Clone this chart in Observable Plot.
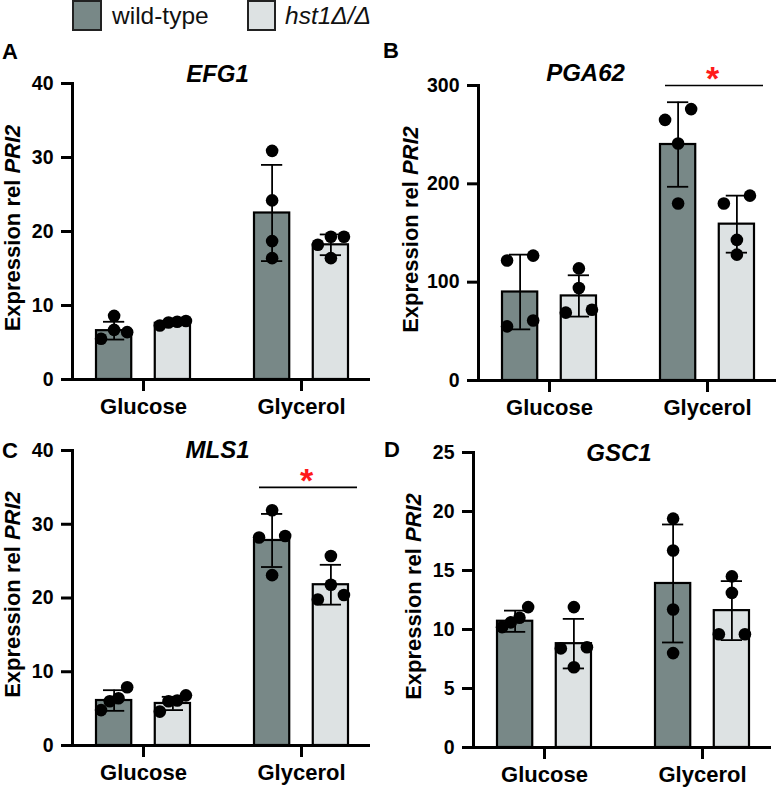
<!DOCTYPE html>
<html>
<head>
<meta charset="utf-8">
<script src="https://cdn.jsdelivr.net/npm/d3@7"></script>
<script src="https://cdn.jsdelivr.net/npm/@observablehq/plot@0.6"></script>
<style>
  html, body { margin: 0; padding: 0; background: #ffffff; }
  #root { position: relative; width: 782px; height: 789px; overflow: hidden;
          font-family: "Liberation Sans", Arial, Helvetica, sans-serif; }
  #root > svg { position: absolute; }
</style>
</head>
<body>
<div id="root"></div>
<script>
// ---------------- data ----------------
const conditions = ["Glucose", "Glycerol"];
const genotypes = ["wild-type", "hst1Δ/Δ"];
const genes = ["EFG1", "PGA62", "MLS1", "GSC1"];
const panelLetters = ["A", "B", "C", "D"];
const yMaxes = [40, 300, 40, 25];
const yTickValues = [[0, 10, 20, 30, 40], [0, 100, 200, 300], [0, 10, 20, 30, 40], [0, 5, 10, 15, 20, 25]];

// group order: Glucose wild-type, Glucose hst1, Glycerol wild-type, Glycerol hst1
const meanEFG1 = [6.6, 7.6, 22.5, 18.2];
const sdEFG1 = [1.2, 0.25, 6.5, 1.4];
const pointsEFG1 = [[8.6, 6.7, 6.4, 5.5], [7.3, 7.9, 7.7, 7.8], [30.9, 24.2, 18.7, 16.4], [19.3, 18.2, 16.4, 19.3]];

const meanPGA62 = [90, 86, 240, 159];
const sdPGA62 = [38, 21, 43, 29];
const pointsPGA62 = [[122, 127, 55, 61], [114, 94, 69, 72], [265, 276, 241, 180], [180, 188, 143, 128]];

const meanMLS1 = [6.1, 5.7, 27.8, 21.8];
const sdMLS1 = [1.4, 0.9, 3.6, 2.7];
const pointsMLS1 = [[6.4, 7.9, 6.0, 4.8], [6.8, 6.1, 6.0, 4.6], [31.9, 28.4, 28.2, 23.1], [25.7, 21.8, 20.4, 19.8]];

const meanGSC1 = [10.7, 8.8, 13.9, 11.6];
const sdGSC1 = [0.9, 2.1, 5.0, 2.5];
const pointsGSC1 = [[11.9, 11.0, 10.6, 10.2], [11.9, 8.5, 8.4, 6.8], [19.4, 16.7, 11.7, 8.0], [14.5, 13.1, 9.6, 9.6]];

const sigGenes = ["PGA62", "MLS1"];
const sigConditions = ["Glycerol", "Glycerol"];
const sigLevels = [300, 35];
const sigLabels = ["*", "*"];

const legendLabels = genotypes;
const yLabelMain = "Expression rel ";
const yLabelGene = "PRI2";

// ---------------- styles / layout ----------------
const FONT = '"Liberation Sans", Arial, Helvetica, sans-serif';
const colors = ["#788887", "#dde2e3"];
const layout = [
  {left: 0,   top: 36,  width: 391, height: 384, mt: 47, mr: 23, mb: 41, ml: 72, labelX: 20, titleX: 217, titleY: 73.5, letterX: 2,   letterY: 59},
  {left: 391, top: 36,  width: 391, height: 384, mt: 49, mr: 8,  mb: 40, ml: 87, labelX: 27, titleX: 585, titleY: 72.5, letterX: 383, letterY: 58},
  {left: 0,   top: 420, width: 391, height: 369, mt: 30, mr: 23, mb: 44, ml: 72, labelX: 20, titleX: 217, titleY: 450,  letterX: 2,   letterY: 458},
  {left: 391, top: 420, width: 391, height: 369, mt: 32, mr: 13, mb: 42, ml: 82, labelX: 30, titleX: 618.5, titleY: 452.5, letterX: 384, letterY: 457}
];
const xPad = {paddingInner: 0.405, paddingOuter: 0.139, align: 0.55};
const dotR = 6.3;
const axisWidth = 3;

const series = {
  EFG1: {mean: meanEFG1, sd: sdEFG1, points: pointsEFG1},
  PGA62: {mean: meanPGA62, sd: sdPGA62, points: pointsPGA62},
  MLS1: {mean: meanMLS1, sd: sdMLS1, points: pointsMLS1},
  GSC1: {mean: meanGSC1, sd: sdGSC1, points: pointsGSC1}
};
const groups = conditions.flatMap(c => genotypes.map(g => ({condition: c, genotype: g})));

// horizontal spreading of overlapping dots (column-scatter style)
function spreadOffsets(values, ppu, spread) {
  const idx = values.map((v, i) => i).sort((a, b) => values[a] - values[b]);
  const clusters = [];
  let cur = [idx[0]];
  for (let k = 1; k < idx.length; k++) {
    if ((values[idx[k]] - values[idx[k - 1]]) * ppu < 2 * dotR) cur.push(idx[k]);
    else { clusters.push(cur); cur = [idx[k]]; }
  }
  clusters.push(cur);
  const off = new Array(values.length).fill(0);
  for (const c of clusters) {
    const n = c.length;
    if (n === 2) { off[c[0]] = -spread; off[c[1]] = spread; }
    else if (n === 3) { off[c[0]] = -spread; off[c[1]] = spread; off[c[2]] = 0; }
    else if (n >= 4) c.forEach((j, k) => { off[j] = -spread + 2 * spread * k / (n - 1); });
  }
  return off;
}

const root = document.getElementById("root");

genes.forEach((gene, pi) => {
  const L = layout[pi];
  const s = series[gene];
  const plotW = L.width - L.ml - L.mr;
  const plotH = L.height - L.mt - L.mb;
  const step = plotW / (conditions.length - xPad.paddingInner + 2 * xPad.paddingOuter);
  const bandW = step * (1 - xPad.paddingInner);
  const barStep = bandW / (genotypes.length - 0.4);
  const barW = barStep * 0.6;
  const inset = bandW - barW;
  const shift = (bandW - barW) / 2;
  const ppu = plotH / yMaxes[pi];

  const summary = groups.map((g, i) => ({...g, mean: s.mean[i], sd: s.sd[i]}));
  const points = groups.flatMap((g, i) => {
    const off = spreadOffsets(s.points[i], ppu, barW * 0.37);
    return s.points[i].map((v, j) => ({...g, value: v, offset: off[j]}));
  });
  const sig = sigGenes.map((g, i) => ({gene: g, condition: sigConditions[i], level: sigLevels[i], label: sigLabels[i]}))
                      .filter(d => d.gene === gene);

  const marks = [];
  genotypes.forEach((gt, gi) => {
    const rows = summary.filter(d => d.genotype === gt);
    marks.push(Plot.barY(rows, {
      x: "condition", y: "mean", fill: colors[gi], stroke: "#000", strokeWidth: 2.2,
      insetLeft: gi === 0 ? 0 : inset, insetRight: gi === 0 ? inset : 0
    }));
  });
  genotypes.forEach((gt, gi) => {
    const side = gi === 0 ? -1 : 1;
    const rows = summary.filter(d => d.genotype === gt);
    marks.push(Plot.ruleX(rows, {x: "condition", y1: d => d.mean - d.sd, y2: d => d.mean + d.sd, dx: side * shift, stroke: "#000", strokeWidth: 1.8}));
    marks.push(Plot.tickY(rows, {x: "condition", y: d => d.mean + d.sd, dx: side * shift, insetLeft: inset / 2 + 7, insetRight: inset / 2 + 7, stroke: "#000", strokeWidth: 1.8}));
    marks.push(Plot.tickY(rows, {x: "condition", y: d => d.mean - d.sd, dx: side * shift, insetLeft: inset / 2 + 7, insetRight: inset / 2 + 7, stroke: "#000", strokeWidth: 1.8}));
  });
  genotypes.forEach((gt, gi) => {
    const side = gi === 0 ? -1 : 1;
    const rows = points.filter(d => d.genotype === gt);
    const offs = Array.from(new Set(rows.map(d => d.offset)));
    offs.forEach(o => {
      marks.push(Plot.dot(rows.filter(d => d.offset === o), {x: "condition", y: "value", dx: side * shift + o, r: dotR, fill: "#000", stroke: "none"}));
    });
  });
  if (sig.length) {
    marks.push(Plot.ruleY(sig, {x1: "condition", x2: "condition", y: "level", insetLeft: 5, insetRight: -9, stroke: "#000", strokeWidth: 1.6}));
    marks.push(Plot.text(sig, {x: "condition", y: "level", text: "label", fill: "#ff1a1a", fontSize: 34, fontWeight: "bold", lineAnchor: "top", dy: -20, dx: 5}));
  }
  marks.push(Plot.frame({anchor: "left", stroke: "#000", strokeWidth: axisWidth, strokeLinecap: "square"}));
  marks.push(Plot.frame({anchor: "bottom", stroke: "#000", strokeWidth: axisWidth}));
  marks.push(Plot.axisY({ticks: yTickValues[pi], tickFormat: d => String(d), tickSize: 11, tickPadding: 8, strokeWidth: axisWidth, label: null, fontSize: 19.5}));
  marks.push(Plot.axisX({tickSize: 12, tickPadding: 7, strokeWidth: axisWidth, label: null, fontSize: 22}));
  const frameCenterX = L.left + L.ml + plotW / 2;
  marks.push(Plot.text([gene], {
    text: d => d, frameAnchor: "top", lineAnchor: "middle",
    dx: L.titleX - frameCenterX, dy: L.titleY - (L.top + L.mt),
    fontSize: 24, fontStyle: "italic", fontWeight: "bold", fill: "#000"
  }));

  const chart = Plot.plot({
    width: L.width, height: L.height,
    marginTop: L.mt, marginRight: L.mr, marginBottom: L.mb, marginLeft: L.ml,
    x: {domain: conditions, ...xPad},
    y: {domain: [0, yMaxes[pi]]},
    style: {fontFamily: FONT, fontWeight: "bold", fontSize: "19.5px", color: "#000", background: "transparent", overflow: "visible"},
    marks
  });
  chart.style.left = L.left + "px";
  chart.style.top = L.top + "px";

  const sel = d3.select(chart);
  sel.selectAll("g[aria-label='frame'], g[aria-label='frame'] *, g[aria-label='y-axis tick'], g[aria-label='y-axis tick'] *, g[aria-label='x-axis tick'], g[aria-label='x-axis tick'] *")
    .attr("stroke-width", axisWidth).style("stroke-width", axisWidth + "px");

  const lab = sel.append("text")
    .attr("transform", `translate(${L.labelX},${L.mt + plotH / 2 - 3}) rotate(-90)`)
    .attr("text-anchor", "middle")
    .attr("fill", "#000")
    .style("font-family", FONT).style("font-weight", "bold").style("font-size", "22px");
  lab.append("tspan").text(yLabelMain);
  lab.append("tspan").style("font-style", "italic").text(yLabelGene);

  root.appendChild(chart);
});

// overlay: legend and panel letters
const overlay = d3.select(root).append("svg")
  .attr("width", 782).attr("height", 789)
  .style("left", "0px").style("top", "0px").style("pointer-events", "none");
const legendPos = [{x: 73, tx: 112, w: 28}, {x: 248, tx: 285, w: 27}];
legendLabels.forEach((lbl, i) => {
  overlay.append("rect").attr("x", legendPos[i].x).attr("y", 1).attr("width", legendPos[i].w).attr("height", 29)
    .attr("fill", colors[i]).attr("stroke", "#222").attr("stroke-width", 2);
  overlay.append("text").attr("x", legendPos[i].tx).attr("y", 23.5)
    .style("font-family", FONT).style("font-size", "24.5px")
    .style("font-style", i === 1 ? "italic" : "normal").attr("fill", "#111").text(lbl);
});
panelLetters.forEach((t, i) => {
  overlay.append("text").attr("x", layout[i].letterX).attr("y", layout[i].letterY)
    .style("font-family", FONT).style("font-weight", "bold").style("font-size", "22px")
    .attr("fill", "#000").text(t);
});
</script>
</body>
</html>
